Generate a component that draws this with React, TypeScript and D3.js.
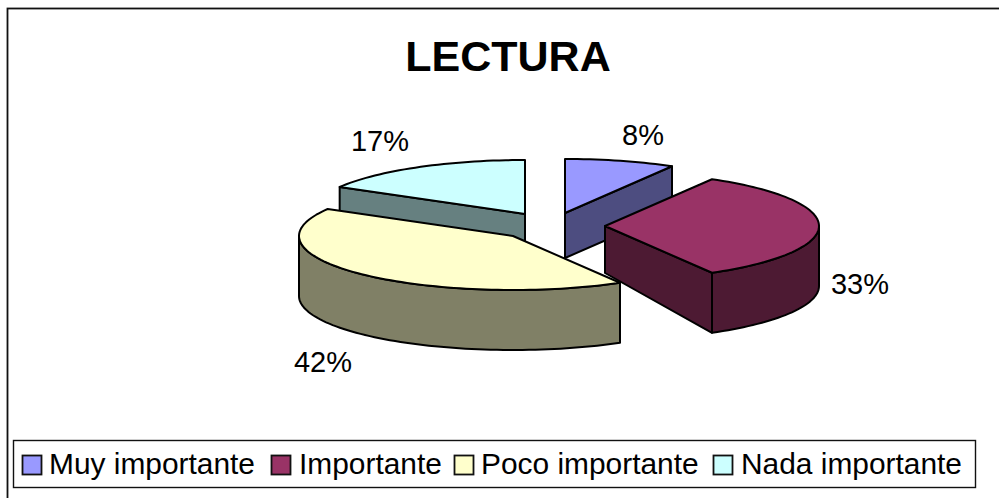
import React from "react";
import * as d3 from "d3";

const categories = ["Muy importante", "Importante", "Poco importante", "Nada importante"];
const shares = [1, 4, 5, 2];
const labels = ["8%", "33%", "42%", "17%"];
const topColors = ["#9999FF", "#993366", "#FFFFCC", "#CCFFFF"];
const sideColors = ["#4D4D80", "#4D1A33", "#808066", "#668080"];
const vertexX = [565, 605, 513, 525];
const vertexY = [213, 226, 236, 214];
const rimDepth = [45, 60, 60, 45];
const hubDepth = [45, 47, 47, 45];
const labelX = [643, 860, 323, 380];
const labelY = [145, 294, 372, 151];
const legendX = [22.5, 271.5, 454.5, 713.5];
const legendTextX = [49, 299, 481, 741];

const W = 999, H = 498, RX = 214, RY = 54;
const pie = d3.pie<number>().sort(null).startAngle(0).endAngle(2 * Math.PI);
const arcs = pie(shares);
const line = d3.line<[number, number]>();
const FONT = "'Liberation Sans', Arial, sans-serif";

function rim(i: number, a: number, dy = 0): [number, number] {
  return [vertexX[i] + RX * Math.sin(a), vertexY[i] - RY * Math.cos(a) + dy];
}
function samples(a0: number, a1: number) {
  const n = Math.max(2, Math.ceil((a1 - a0) / 0.03));
  return d3.range(n + 1).map((k) => a0 + ((a1 - a0) * k) / n);
}

function Slice({ i }: { i: number }) {
  const { startAngle: a0, endAngle: a1 } = arcs[i];
  const hub: [number, number] = [vertexX[i], vertexY[i]];
  const hubLow: [number, number] = [hub[0], hub[1] + hubDepth[i]];
  const walls: string[] = [];
  const radial = (a: number) =>
    line([hub, rim(i, a), rim(i, a, rimDepth[i]), hubLow]) + "Z";
  if (Math.sin(a0) < -1e-6) walls.push(radial(a0));
  if (Math.sin(a1) > 1e-6) walls.push(radial(a1));
  const w0 = Math.max(a0, Math.PI / 2);
  const w1 = Math.min(a1, (3 * Math.PI) / 2);
  const outer =
    w1 > w0
      ? line([
          ...samples(w0, w1).map((a) => rim(i, a)),
          ...samples(w0, w1).reverse().map((a) => rim(i, a, rimDepth[i])),
        ]) + "Z"
      : null;
  const top = line([hub, ...samples(a0, a1).map((a) => rim(i, a))]) + "Z";
  const common = { stroke: "#000", strokeWidth: 2, strokeLinejoin: "round" as const };
  return (
    <g>
      {walls.map((d, k) => (
        <path key={k} d={d} fill={sideColors[i]} {...common} />
      ))}
      {outer && <path d={outer} fill={sideColors[i]} {...common} />}
      <path d={top} fill={topColors[i]} {...common} />
    </g>
  );
}

export default function App() {
  return (
    <svg
      width={W}
      height={H}
      style={{ position: "fixed", left: 0, top: 0, background: "#fff" }}
      fontFamily={FONT}
    >
      <rect x={7.5} y={8.5} width={W} height={H} fill="#fff" stroke="#111" strokeWidth={1.8} />
      <text x={508} y={71} textAnchor="middle" fontSize={43} fontWeight="bold">
        LECTURA
      </text>
      {[3, 0, 1, 2].map((i) => (
        <Slice key={i} i={i} />
      ))}
      {labels.map((t, i) => (
        <text key={t} x={labelX[i]} y={labelY[i]} textAnchor="middle" fontSize={29}>
          {t}
        </text>
      ))}
      <rect x={13.5} y={440.5} width={962} height={47} fill="#fff" stroke="#111" strokeWidth={1.4} />
      {categories.map((c, i) => (
        <g key={c}>
          <rect x={legendX[i]} y={455.5} width={19} height={19} fill={topColors[i]} stroke="#111" strokeWidth={1.8} />
          <text x={legendTextX[i]} y={474} fontSize={29.9}>
            {c}
          </text>
        </g>
      ))}
    </svg>
  );
}
